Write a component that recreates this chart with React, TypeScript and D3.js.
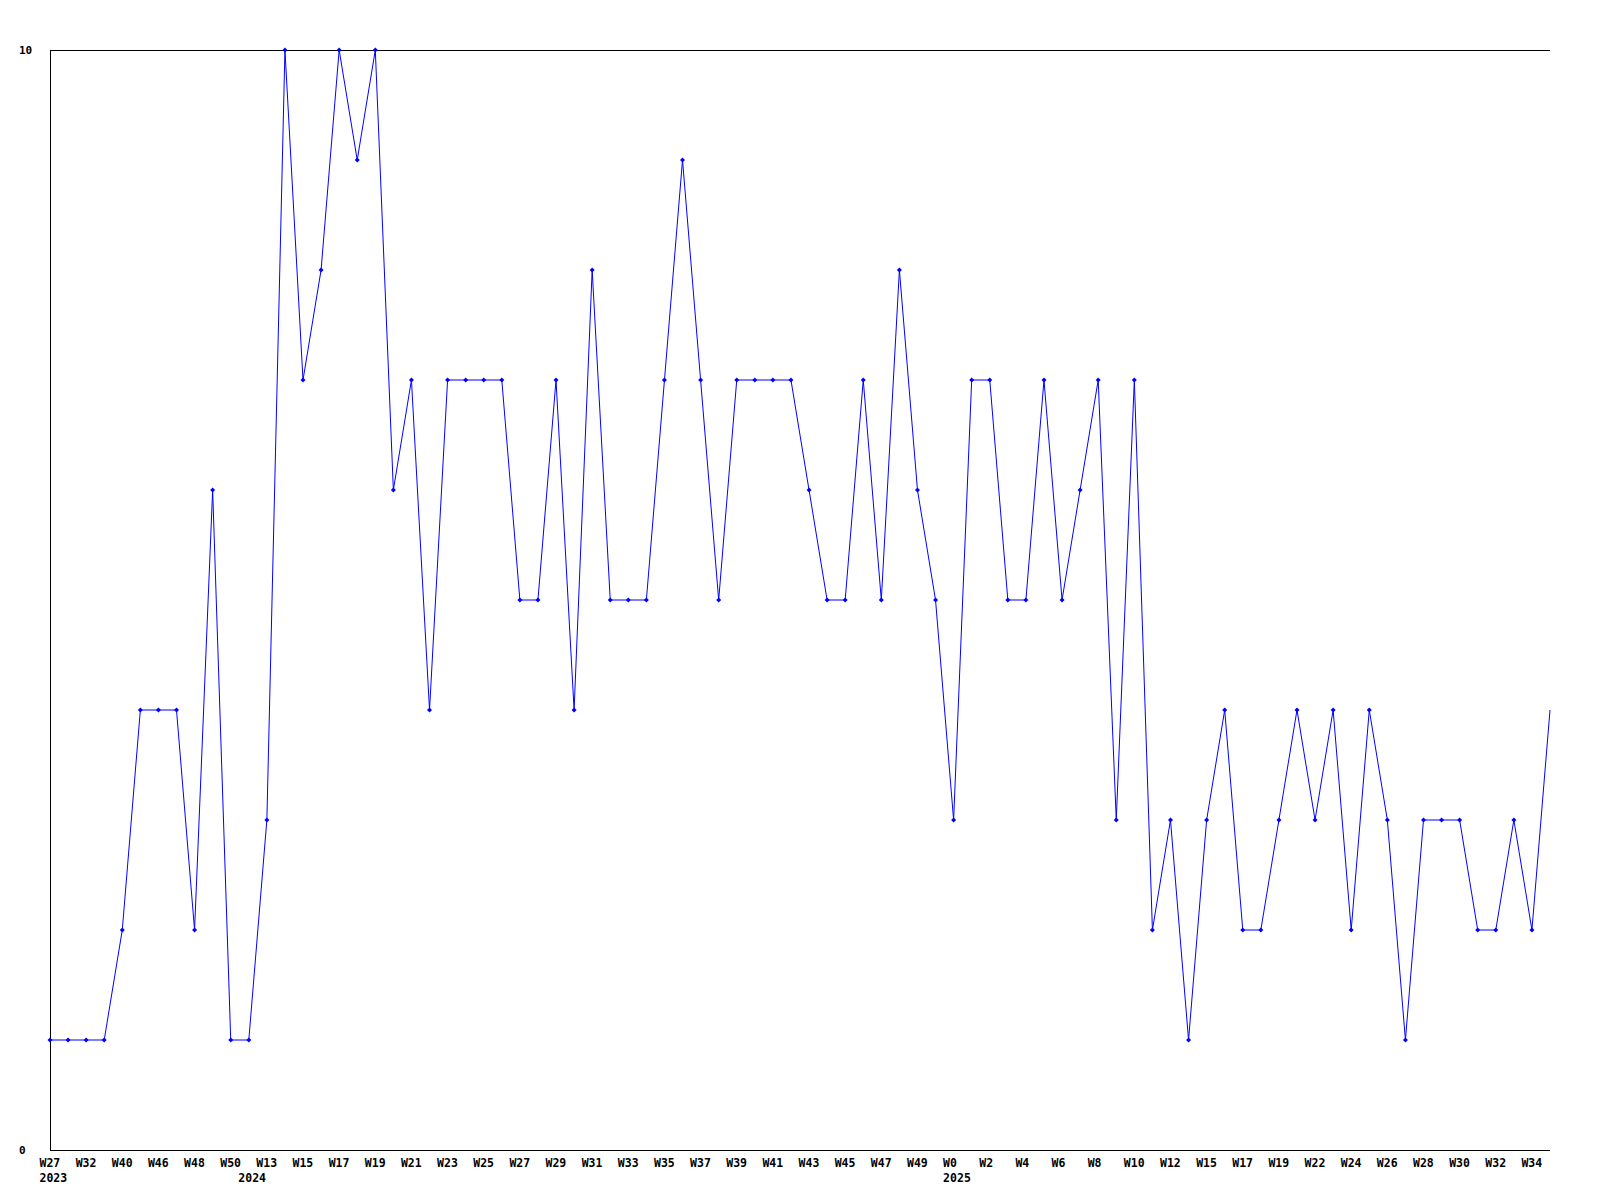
import React from "react";
import * as d3 from "d3";

const values: number[] = [
  1, 1, 1, 1, 2, 4, 4, 4, 2, 6,
  1, 1, 3, 10, 7, 8, 10, 9, 10, 6,
  7, 4, 7, 7, 7, 7, 5, 5, 7, 4,
  8, 5, 5, 5, 7, 9, 7, 5, 7, 7,
  7, 7, 6, 5, 5, 7, 5, 8, 6, 5,
  3, 7, 7, 5, 5, 7, 5, 6, 7, 3,
  7, 2, 3, 1, 3, 4, 2, 2, 3, 4,
  3, 4, 2, 4, 3, 1, 3, 3, 3, 2,
  2, 3, 2, 4,
];

// labels shown at every second point
const weekLabels: string[] = [
  "W27", "W32", "W40", "W46", "W48", "W50", "W13", "W15", "W17", "W19",
  "W21", "W23", "W25", "W27", "W29", "W31", "W33", "W35", "W37", "W39",
  "W41", "W43", "W45", "W47", "W49", "W0", "W2", "W4", "W6", "W8",
  "W10", "W12", "W15", "W17", "W19", "W22", "W24", "W26", "W28", "W30",
  "W32", "W34",
];

const yearIndex: number[] = [0, 11, 50];
const yearLabels: string[] = ["2023", "2024", "2025"];

const yTicks: number[] = [0, 10];

const W = 1600;
const H = 1200;
const left = 50;
const right = 1550;
const top = 50;
const bottom = 1150;
const FONT = "'DejaVu Sans Mono', monospace";

export default function App() {
  const x = d3.scaleLinear().domain([0, values.length - 1]).range([left, right]);
  const y = d3.scaleLinear().domain([0, 10]).range([bottom, top]);
  const line = d3
    .line<number>()
    .x((_, i) => x(i))
    .y((d) => y(d));

  return (
    <svg
      width={W}
      height={H}
      style={{ position: "absolute", left: 0, top: 0, background: "#fff" }}
    >
      <rect x={0} y={0} width={W} height={H} fill="#fff" />
      {/* frame lines */}
      <g stroke="#000" strokeWidth={1} shapeRendering="crispEdges">
        <line x1={left} y1={top} x2={left} y2={bottom} />
        <line x1={left} y1={bottom} x2={right} y2={bottom} />
        <line x1={left} y1={top} x2={right} y2={top} />
      </g>
      {/* y labels */}
      <g fontFamily={FONT} fontWeight="bold" fontSize={11} fill="#000">
        {yTicks.map((t) => (
          <text key={t} x={19} y={y(t) + 4}>
            {t}
          </text>
        ))}
      </g>
      {/* series */}
      <path d={line(values) || ""} fill="none" stroke="#0000ff" strokeWidth={1} />
      <g fill="#0000ff">
        {values.slice(0, values.length - 1).map((v, i) => {
          const cx = x(i);
          const cy = y(v);
          const r = 2.5;
          return (
            <path
              key={i}
              d={`M${cx},${cy - r}L${cx + r},${cy}L${cx},${cy + r}L${cx - r},${cy}Z`}
            />
          );
        })}
      </g>
      {/* x labels */}
      <g fontFamily={FONT} fontWeight="bold" fontSize={11.5} fill="#000">
        {weekLabels.map((l, k) => (
          <text key={k} x={x(k * 2) - 10.5} y={1166.5}>
            {l}
          </text>
        ))}
        {yearLabels.map((l, k) => (
          <text key={"y" + k} x={x(yearIndex[k]) - 10.5} y={1182}>
            {l}
          </text>
        ))}
      </g>
    </svg>
  );
}
